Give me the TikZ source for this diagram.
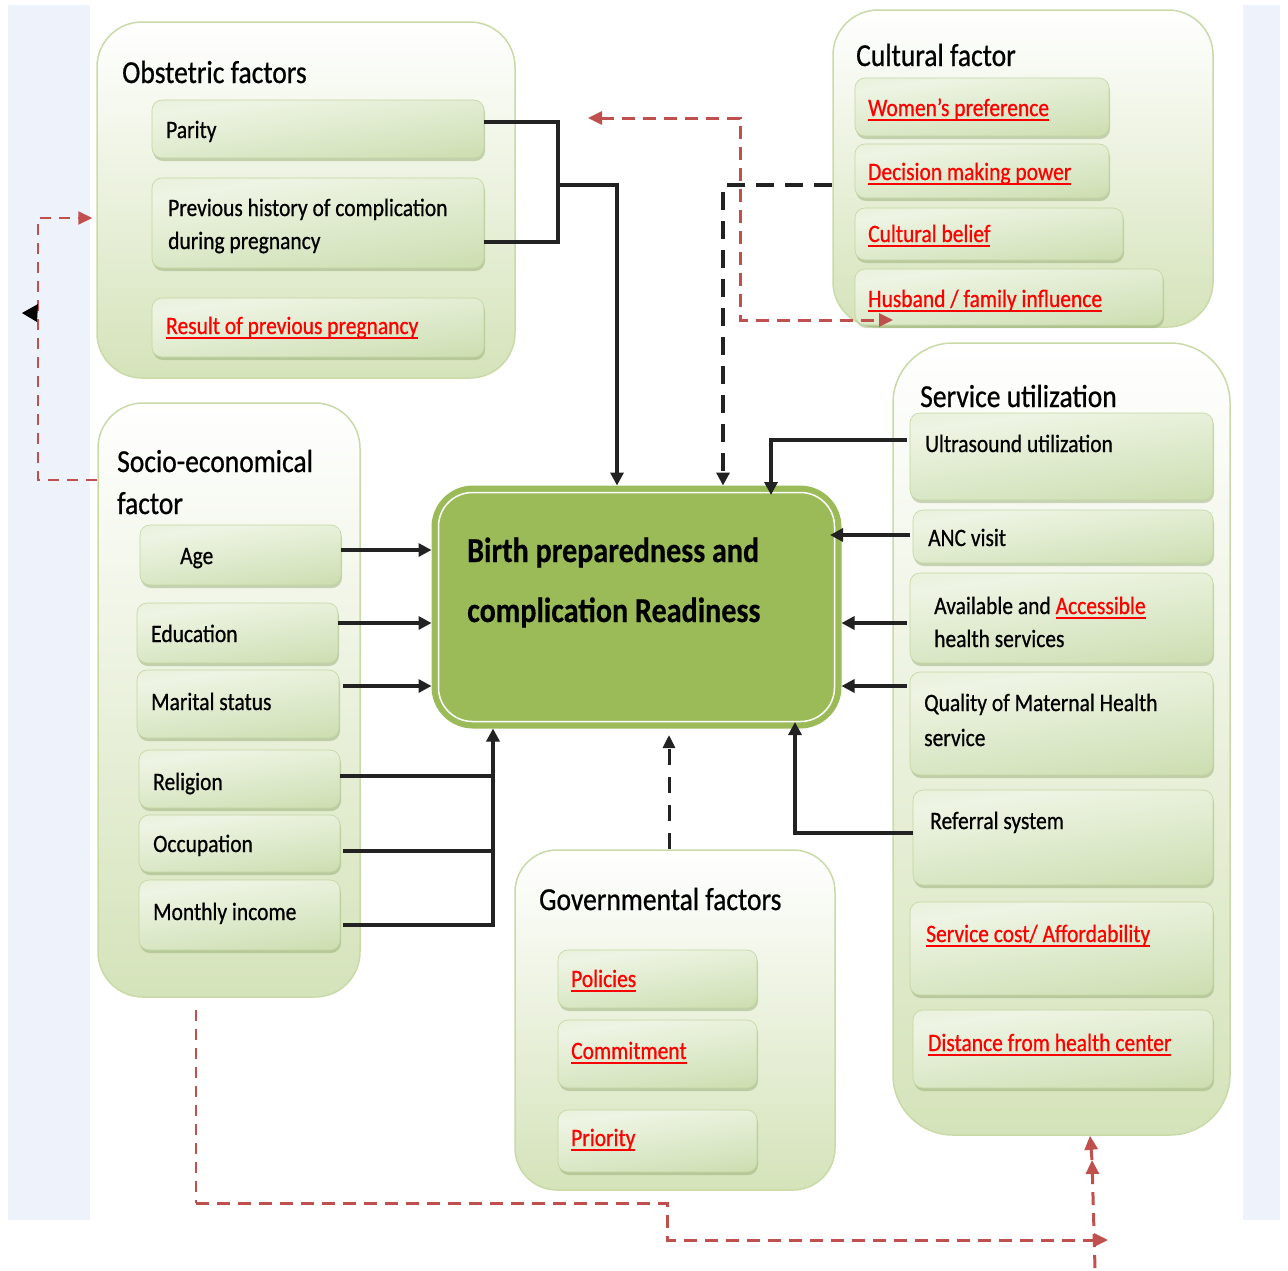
\documentclass[tikz,border=0pt]{standalone}
\usepackage{fontspec}
\setmainfont[FakeStretch=0.86, FakeBold=0.7, BoldFeatures={FakeBold=0.4}]{Carlito}
\usetikzlibrary{arrows.meta,shadows}
\definecolor{bgblue}{HTML}{EEF2FA}
\definecolor{gborder}{HTML}{C9DAA8}
\definecolor{obot}{HTML}{D5E3BA}
\definecolor{ibot}{HTML}{BDD295}
\definecolor{imid}{HTML}{D8E6C3}
\definecolor{ihi}{HTML}{EEF4E3}
\definecolor{itop}{HTML}{DCE8C7}
\definecolor{iedge}{HTML}{C2D5A0}
\definecolor{ishadow}{HTML}{8FA56C}
\definecolor{coregreen}{HTML}{9BBB59}
\definecolor{lineblack}{HTML}{222222}
\definecolor{reddash}{HTML}{C0504D}
\definecolor{redtext}{HTML}{FF0000}
\pgfdeclareverticalshading{itemsh}{100bp}{color(0bp)=(ibot); color(38bp)=(imid); color(70bp)=(ihi); color(100bp)=(itop)}
\newcommand{\ru}[1]{\textcolor{redtext}{\setbox0\hbox{#1}\rlap{\rule[-5pt]{\wd0}{1.8pt}}\box0}}
\begin{document}
\begin{tikzpicture}[x=1pt,y=-1pt,
  outer/.style={draw=gborder, line width=1.5pt, top color=white, bottom color=obot, inner sep=0pt},
  itembox/.style={rounded corners=10pt, shading=itemsh, shading angle=8, draw=iedge, line width=0.6pt, inner sep=0pt,
     drop shadow={shadow xshift=1pt, shadow yshift=-3pt, opacity=0.45, fill=ishadow}},
  core/.style={fill=coregreen, draw=coregreen, line width=3pt, rounded corners=40pt, inner sep=0pt},
  ttl/.style={anchor=base west, inner sep=0pt, font=\fontsize{32}{38}\selectfont},
  itx/.style={anchor=base west, inner sep=0pt, font=\fontsize{25}{30}\selectfont},
  ctx/.style={anchor=base west, inner sep=0pt, font=\bfseries\fontsize{35}{42}\selectfont},
  bk/.style={draw=lineblack, line width=3.5pt},
  bka/.style={bk, -{Triangle[length=13pt,width=13pt]}},
  bkd/.style={draw=lineblack, line width=4pt, dash pattern=on 18pt off 11pt, -{Triangle[length=13pt,width=13pt]}},
  rd/.style={draw=reddash, line width=3pt, dash pattern=on 13pt off 8pt},
  rdthin/.style={draw=reddash, line width=2pt, dash pattern=on 11pt off 8pt},
  rtip/.style={-{Triangle[length=14pt,width=13pt]}}
]
\useasboundingbox (0,0) rectangle (1288,1270);
\fill[bgblue] (8,5) rectangle (90,1220);
\fill[bgblue] (1243,5) rectangle (1280,1220);

% outer group boxes
\node[outer, rounded corners=45pt, minimum width=418, minimum height=356] (obst) at (306,200) {};
\node[outer, rounded corners=45pt, minimum width=380, minimum height=317] (cult) at (1023,168.5) {};
\node[outer, rounded corners=60pt, minimum width=337, minimum height=792] (serv) at (1061.5,739) {};
\node[outer, rounded corners=45pt, minimum width=262, minimum height=594] (socio) at (229,700) {};
\node[outer, rounded corners=42pt, minimum width=320, minimum height=340] (gov) at (675,1020) {};

% obstetric items
\node[itembox, minimum width=332, minimum height=58] (parity) at (318,129) {};
\node[itembox, minimum width=332, minimum height=90] (prev) at (318,223) {};
\node[itembox, minimum width=332, minimum height=59] (result) at (318,327.5) {};
% cultural items
\node[itembox, minimum width=254, minimum height=58] (women) at (982,107) {};
\node[itembox, minimum width=254, minimum height=54] (decision) at (982,171) {};
\node[itembox, minimum width=268, minimum height=52] (belief) at (989,234) {};
\node[itembox, minimum width=308, minimum height=56] (husband) at (1009,297) {};
% service items
\node[itembox, minimum width=303, minimum height=87] (ultra) at (1061.5,456.5) {};
\node[itembox, minimum width=300, minimum height=53] (anc) at (1063,536.5) {};
\node[itembox, minimum width=303, minimum height=90] (avail) at (1061.5,618) {};
\node[itembox, minimum width=303, minimum height=103] (quality) at (1061.5,723.5) {};
\node[itembox, minimum width=300, minimum height=95] (referral) at (1063,837.5) {};
\node[itembox, minimum width=303, minimum height=93] (cost) at (1061.5,948.5) {};
\node[itembox, minimum width=300, minimum height=78] (dist) at (1063,1049) {};
% socio items
\node[itembox, minimum width=201, minimum height=60] (age) at (240.5,555) {};
\node[itembox, minimum width=201, minimum height=60] (edu) at (237.5,633) {};
\node[itembox, minimum width=202, minimum height=68] (marital) at (238,704) {};
\node[itembox, minimum width=201, minimum height=58] (religion) at (239.5,779) {};
\node[itembox, minimum width=201, minimum height=57] (occ) at (239.5,843.5) {};
\node[itembox, minimum width=201, minimum height=70] (income) at (239.5,915) {};
% governmental items
\node[itembox, minimum width=199, minimum height=58] (policies) at (657.5,979) {};
\node[itembox, minimum width=199, minimum height=68] (commit) at (657.5,1054) {};
\node[itembox, minimum width=199, minimum height=62] (priority) at (657.5,1141) {};

% central box
\node[core, minimum width=407, minimum height=240] (core) at (636.5,607) {};
\draw[white, line width=1.5pt, rounded corners=34pt] ([shift={(7,7)}]core.north west) rectangle ([shift={(-7,-7)}]core.south east);

% texts
\node[ttl] (tobst) at (122,83) {Obstetric factors};
\node[itx] (tparity) at (166,138) {Parity};
\node[itx] (tprev1) at (168,216) {Previous history of complication};
\node[itx] (tprev2) at (168,249) {during pregnancy};
\node[itx] (tresult) at (166,334) {\ru{Result of previous pregnancy}};

\node[ttl] (tcult) at (856,66) {Cultural factor};
\node[itx] (twomen) at (868,116) {\ru{Women’s preference}};
\node[itx] (tdecision) at (868,180) {\ru{Decision making power}};
\node[itx] (tbelief) at (868,242) {\ru{Cultural belief}};
\node[itx] (thusband) at (868,307) {\ru{Husband / family influence}};

\node[ttl] (tserv) at (920,407) {Service utilization};
\node[itx] (tultra) at (925,452) {Ultrasound utilization};
\node[itx] (tanc) at (928,546) {ANC visit};
\node[itx] (tavail1) at (934,614) {Available and \ru{Accessible}};
\node[itx] (tavail2) at (934,647) {health services};
\node[itx] (tqual1) at (924,711) {Quality of Maternal Health};
\node[itx] (tqual2) at (924,746) {service};
\node[itx] (tref) at (930,829) {Referral system};
\node[itx] (tcost) at (926,942) {\ru{Service cost/ Affordability}};
\node[itx] (tdist) at (928,1051) {\ru{Distance from health center}};

\node[ttl] (tsocio1) at (117,472) {Socio-economical};
\node[ttl] (tsocio2) at (117,514) {factor};
\node[itx] (tage) at (180,564) {Age};
\node[itx] (tedu) at (151,642) {Education};
\node[itx] (tmar) at (151,710) {Marital status};
\node[itx] (trel) at (153,790) {Religion};
\node[itx] (tocc) at (153,852) {Occupation};
\node[itx] (tinc) at (153,920) {Monthly income};

\node[ctx] (tcore1) at (467,562) {Birth preparedness and};
\node[ctx] (tcore2) at (467,622) {complication Readiness};

\node[ttl] (tgov) at (539,910) {Governmental factors};
\node[itx] (tpol) at (571,987) {\ru{Policies}};
\node[itx] (tcom) at (571,1059) {\ru{Commitment}};
\node[itx] (tpri) at (571,1146) {\ru{Priority}};

% junction coordinates
\coordinate (o1) at (558,122);
\coordinate (o2) at (558,242);
\coordinate (o3) at (558,185);
\coordinate (o4) at (617,185);
\coordinate (c2) at (723,185);
\coordinate (r1) at (588,118);
\coordinate (r2) at (740,118);
\coordinate (r3) at (740,320);
\coordinate (r4) at (893,320);
\coordinate (l1) at (38,480);
\coordinate (l2) at (38,218);
\coordinate (b0) at (196,1010);
\coordinate (b1) at (196,1203);
\coordinate (b2) at (667,1203);
\coordinate (b3) at (667,1240);
\coordinate (b4) at (1108,1240);
\coordinate (v0) at (1095,1268);
\coordinate (v1) at (1092,1160);
\coordinate (ya) at (0,550);
\coordinate (ye) at (0,623);
\coordinate (ym) at (0,686);
\coordinate (bus1) at (493,776);
\coordinate (bus2) at (493,851);
\coordinate (bus3) at (493,925);
\coordinate (g1) at (669,735);
\coordinate (u1) at (771,440);
\coordinate (u2) at (771,495);
\coordinate (an) at (830,535);
\coordinate (yv) at (0,623);
\coordinate (yq) at (0,686);
\coordinate (f1) at (795,833);
\coordinate (f2) at (795,722);

% obstetric connectors
\draw[bk] (parity.east |- o1) -- (o1) -- (o2) -- (prev.east |- o2);
\draw[bka] (o3) -- (o4) -- (core.north -| o4);
% cultural connector
\draw[bkd] (cult.west |- c2) -- (c2) -- (core.north -| c2);
% socio connectors
\draw[bka] (age.east |- ya) -- (core.west |- ya);
\draw[bka] (edu.east |- ye) -- (core.west |- ye);
\draw[bka] ([xshift=4pt]marital.east |- ym) -- (core.west |- ym);
\draw[bk] (religion.east |- bus1) -- (bus1);
\draw[bk] ([xshift=3pt]occ.east |- bus2) -- (bus2);
\draw[bka] ([xshift=3pt]income.east |- bus3) -- (bus3) -- (core.south -| bus3);
% governmental connector
\draw[draw=lineblack, line width=3pt, dash pattern=on 16pt off 12pt, -{Triangle[length=13pt,width=12pt]}] (gov.north -| g1) -- (g1);
% service connectors
\draw[bka] ([xshift=-3pt]ultra.west |- u1) -- (u1) -- (u2);
\draw[bka] ([xshift=-3pt]anc.west |- an) -- (an);
\draw[bka] ([xshift=-3pt]avail.west |- yv) -- (core.east |- yv);
\draw[bka] ([xshift=-3pt]quality.west |- yq) -- (core.east |- yq);
\draw[bka] (referral.west |- f1) -- (f1) -- (f2);

% red dashed links
\draw[rd, {Triangle[length=14pt,width=13pt]}-{Triangle[length=14pt,width=13pt]}] (r1) -- (r2) -- (r3) -- (r4);
\draw[rdthin, rtip] (socio.west |- l1) -- (l1) -- (l2) -- ([xshift=-4pt]obst.west |- l2);
\fill[black] (22,313) -- (38,304) -- (37,322) -- cycle;
\draw[rdthin] (b0) -- (b1);
\draw[rd, rtip] (b1) -- (b2) -- (b3) -- (b4);
\draw[rd, rtip] (v0) -- (v1);
\draw[draw=reddash, line width=3pt, rtip] (v1) -- (serv.south -| 1090,0);
\end{tikzpicture}
\end{document}
